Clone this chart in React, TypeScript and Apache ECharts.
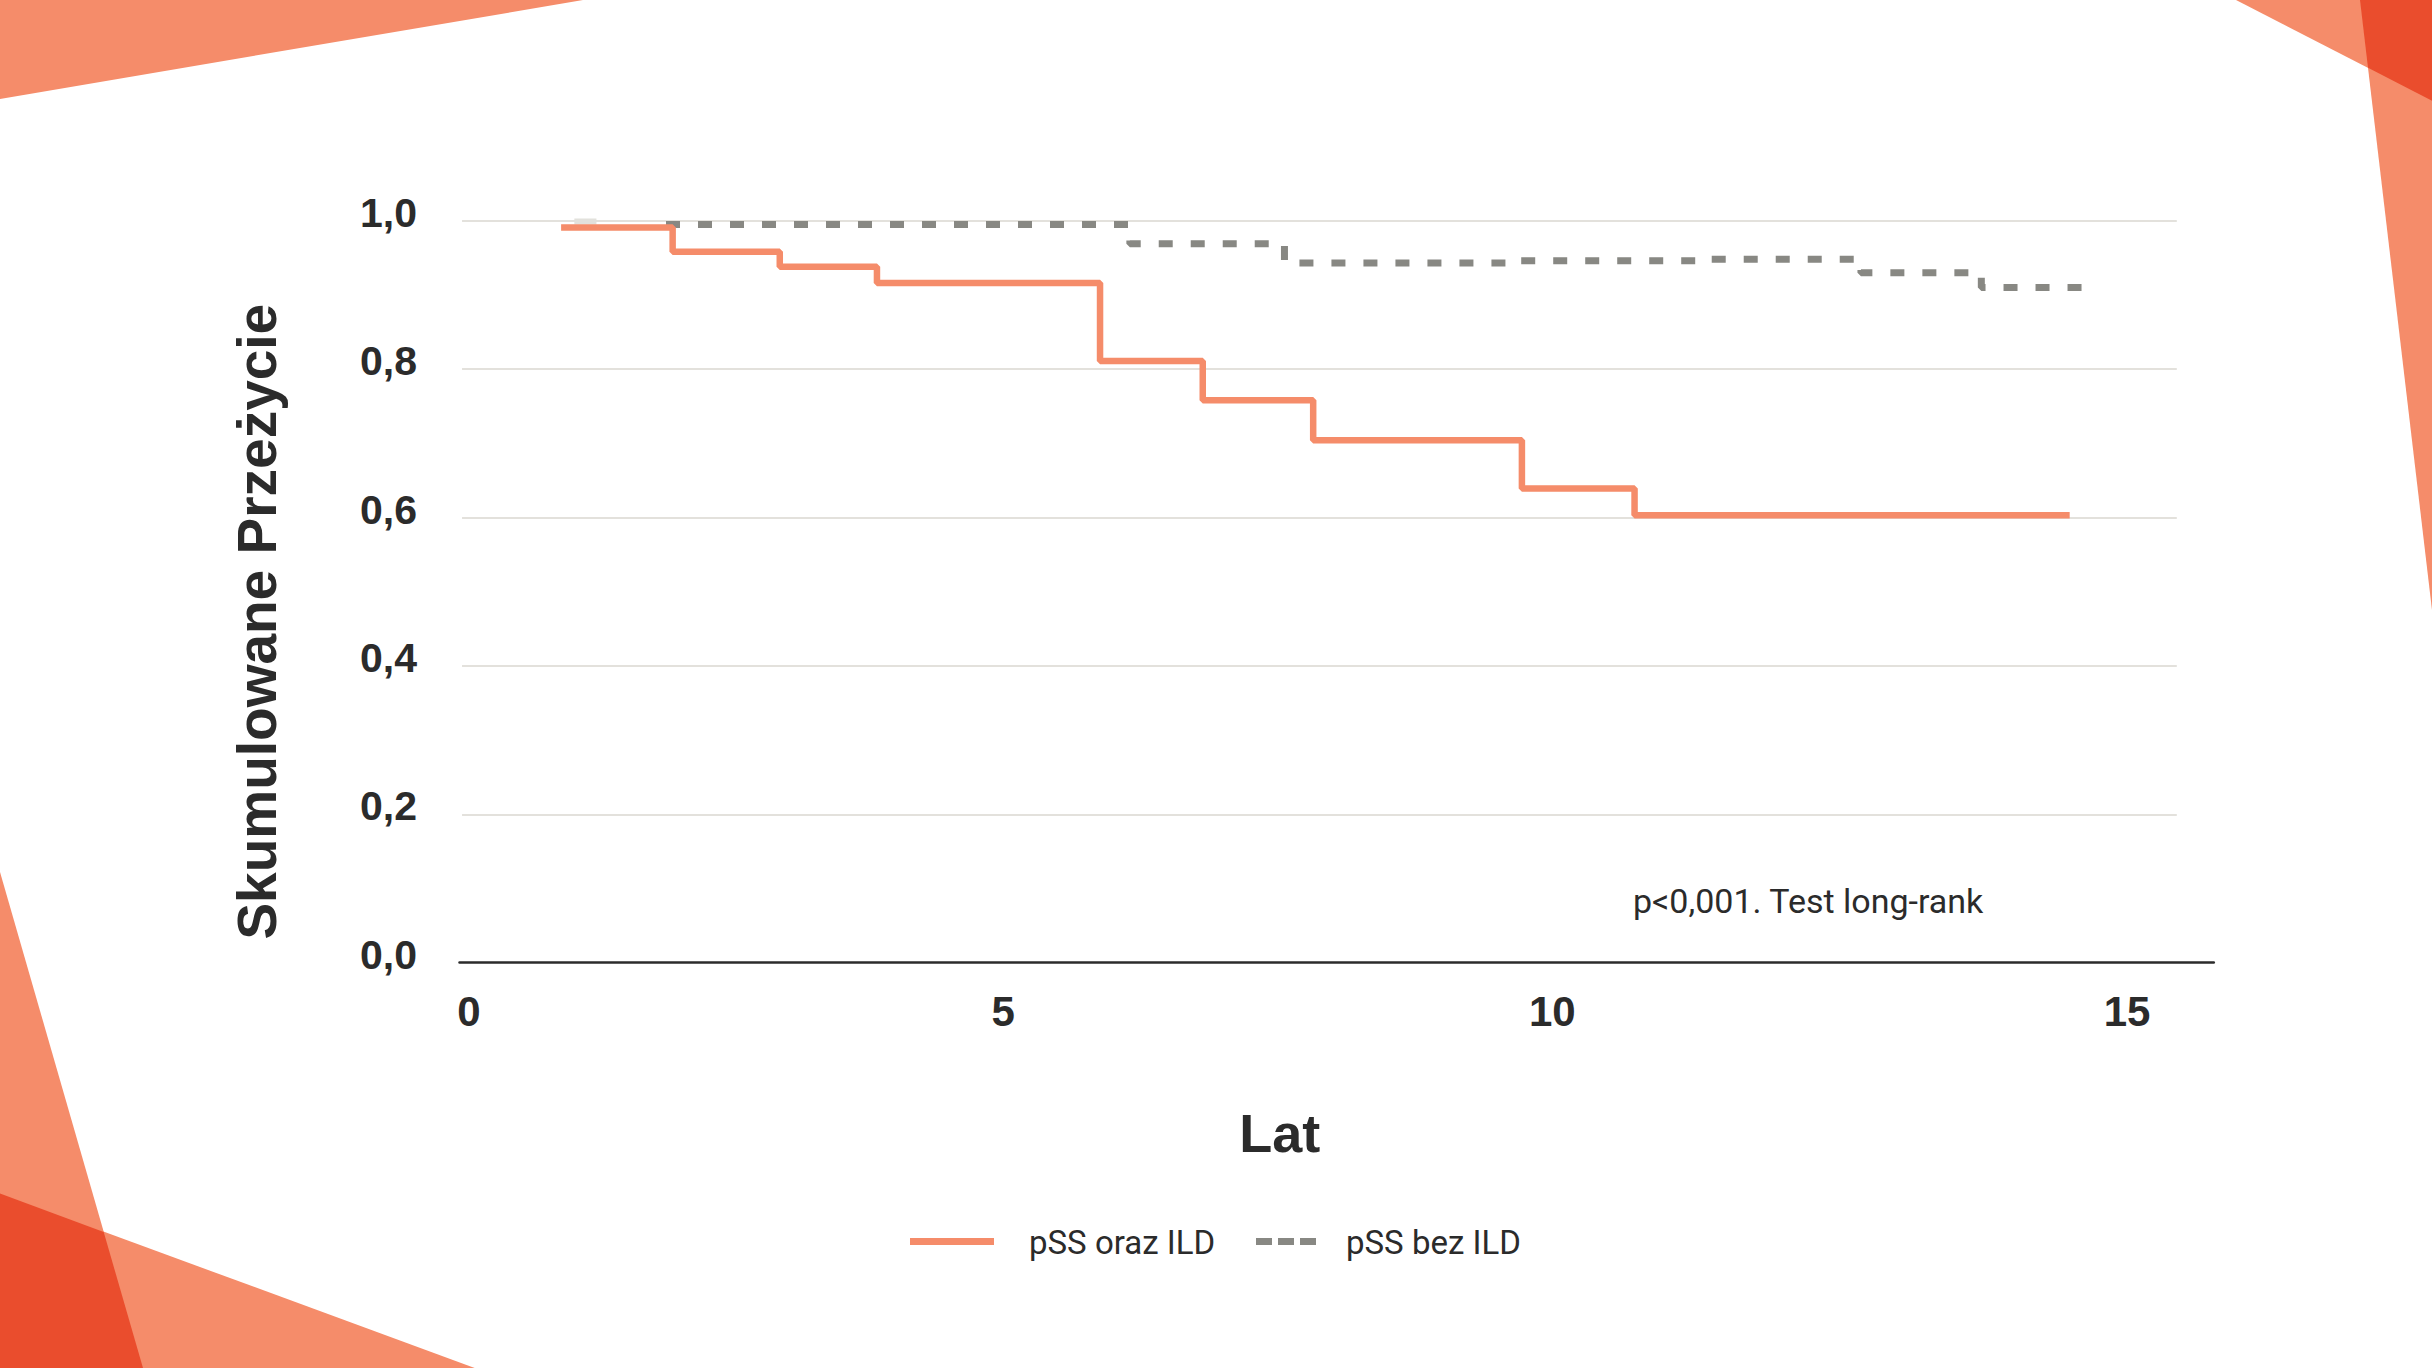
import React, { useEffect, useRef } from "react";
import * as echarts from "echarts";

// ---- data ----
const xTicks = [0, 5, 10, 15];
const yTicks = [0, 0.2, 0.4, 0.6, 0.8, 1.0];

// pSS oraz ILD (Kaplan-Meier steps: time in years, cumulative survival)
const ildTimes = [0.92, 1.93, 2.9, 3.78, 5.8, 6.73, 7.73, 9.62, 10.64, 14.58];
const ildSurv = [0.991, 0.958, 0.938, 0.916, 0.811, 0.758, 0.704, 0.639, 0.603, 0.603];

// pSS bez ILD
const noIldTimes = [1.87, 6.07, 7.47, 9.49, 11.2, 12.69, 13.78, 14.75];
const noIldSurv = [0.995, 0.969, 0.943, 0.946, 0.948, 0.93, 0.91, 0.91];

// faint start segment of the pSS bez ILD curve
const startTimes = [1.04, 1.24];
const startSurv = [0.999, 0.999];

const seriesNames = ["pSS oraz ILD", "pSS bez ILD"];
const yTitle = "Skumulowane Przeżycie";
const xTitle = "Lat";
const note = "p<0,001. Test long-rank";

const SALMON = "#F58C6A";
const DARK = "#EA4D2D";
const GREY = "#888883";
const TEXT = "#2b2b2b";

const zip = (a: number[], b: number[]) => a.map((t, i) => [t, b[i]]);

const tickFont = { color: TEXT, fontFamily: "Liberation Sans", fontWeight: "bold" as const, fontSize: 42 };

export default function App() {
  const ref = useRef<HTMLDivElement>(null);
  useEffect(() => {
    if (!ref.current) return;
    const chart = echarts.init(ref.current, null, { renderer: "svg" });
    const gridLeft = 459.5;
    const gridTop = 220.7;
    const gridW = 1754.3;
    const gridH = 742;
    const gridLines = yTicks
      .filter((v) => v > 0)
      .map((v) => [{ coord: [0.023, v] }, { coord: [15.55, v] }]);

    chart.setOption({
      animation: false,
      backgroundColor: "#ffffff",
      grid: { left: gridLeft, top: gridTop, width: gridW, height: gridH, containLabel: false },
      xAxis: {
        type: "value",
        min: 0,
        max: 15.885,
        interval: 5,
        axisLine: { show: true, lineStyle: { color: TEXT, width: 2.5 } },
        axisTick: { show: false },
        splitLine: { show: false },
        axisLabel: {
          margin: 28,
          showMaxLabel: false,
          ...tickFont,
          formatter: (v: number) => (xTicks.includes(v) ? `{t${v}|${v}}` : ""),
          rich: {
            t0: { ...tickFont, padding: [0, 0, 0, 19] },
            t5: { ...tickFont, padding: [0, 17, 0, 0] },
            t10: { ...tickFont, padding: [0, 23, 0, 0] },
            t15: { ...tickFont, padding: [0, 0, 0, 22] },
          },
        },
        name: xTitle,
        nameLocation: "middle",
        nameGap: 143,
        nameTextStyle: {
          color: TEXT,
          fontFamily: "Liberation Sans",
          fontWeight: "bold",
          fontSize: 54,
          padding: [0, 114, 0, 0],
        },
      },
      yAxis: {
        type: "value",
        min: 0,
        max: 1,
        interval: 0.2,
        axisLine: { show: false },
        axisTick: { show: false },
        splitLine: { show: false },
        axisLabel: {
          margin: 42.5,
          color: TEXT,
          fontFamily: "Liberation Sans",
          fontWeight: "bold",
          fontSize: 41,
          verticalAlign: "bottom",
          lineHeight: 16,
          formatter: (v: number) => v.toFixed(1).replace(".", ","),
        },
        name: yTitle,
        nameLocation: "middle",
        nameGap: 175,
        nameTextStyle: {
          color: TEXT,
          fontFamily: "Liberation Sans",
          fontWeight: "bold",
          fontSize: 55,
          padding: [0, 60, 0, 0],
        },
      },
      series: [
        {
          name: "start",
          type: "line",
          data: zip(startTimes, startSurv),
          showSymbol: false,
          symbol: "none",
          z: 1,
          silent: true,
          lineStyle: { color: "#e2e1dc", width: 6 },
          markLine: {
            silent: true,
            symbol: ["none", "none"],
            label: { show: false },
            lineStyle: { color: "#e3e1dc", width: 2, type: "solid" },
            data: gridLines,
            z: 0,
          },
        },
        {
          name: seriesNames[1],
          type: "line",
          step: "end",
          data: zip(noIldTimes, noIldSurv),
          symbol: "none",
          z: 3,
          lineStyle: { color: GREY, width: 7, type: [14, 18], cap: "butt" },
        },
        {
          name: seriesNames[0],
          type: "line",
          step: "end",
          data: zip(ildTimes, ildSurv),
          symbol: "none",
          z: 4,
          lineStyle: { color: SALMON, width: 6.5 },
        },
      ],
      graphic: [
        // decorative corner shapes
        { type: "polygon", silent: true, z: -10, shape: { points: [[0, 0], [583, 0], [0, 99]] }, style: { fill: SALMON } },
        { type: "polygon", silent: true, z: -10, shape: { points: [[2236, 0], [2432, 0], [2432, 100.8]] }, style: { fill: SALMON } },
        { type: "polygon", silent: true, z: -10, shape: { points: [[2360, 0], [2432, 0], [2432, 610]] }, style: { fill: SALMON } },
        { type: "polygon", silent: true, z: -9, shape: { points: [[2360, 0], [2432, 0], [2432, 100.8], [2368, 67.8]] }, style: { fill: DARK } },
        { type: "polygon", silent: true, z: -10, shape: { points: [[0, 872], [143, 1368], [0, 1368]] }, style: { fill: SALMON } },
        { type: "polygon", silent: true, z: -10, shape: { points: [[0, 1193.5], [474.7, 1368], [0, 1368]] }, style: { fill: SALMON } },
        { type: "polygon", silent: true, z: -9, shape: { points: [[0, 1193.5], [103.7, 1232], [143, 1368], [0, 1368]] }, style: { fill: DARK } },
        // annotation
        {
          type: "text",
          left: 1633,
          top: 884,
          style: { text: note, fill: TEXT, font: "34px Roboto" },
        },
        // legend
        { type: "line", shape: { x1: 910, y1: 1241.5, x2: 994, y2: 1241.5 }, style: { stroke: SALMON, lineWidth: 7 } },
        {
          type: "text",
          left: 1029,
          top: 1226,
          style: { text: seriesNames[0], fill: TEXT, font: "33px Roboto" },
        },
        {
          type: "line",
          shape: { x1: 1256, y1: 1241.5, x2: 1316, y2: 1241.5 },
          style: { stroke: GREY, lineWidth: 7, lineDash: [16, 6] },
        },
        {
          type: "text",
          left: 1346,
          top: 1226,
          style: { text: seriesNames[1], fill: TEXT, font: "33px Roboto" },
        },
      ],
    });
    return () => chart.dispose();
  }, []);
  return (
    <div
      ref={ref}
      style={{ position: "fixed", left: 0, top: 0, width: 2432, height: 1368 }}
    />
  );
}
